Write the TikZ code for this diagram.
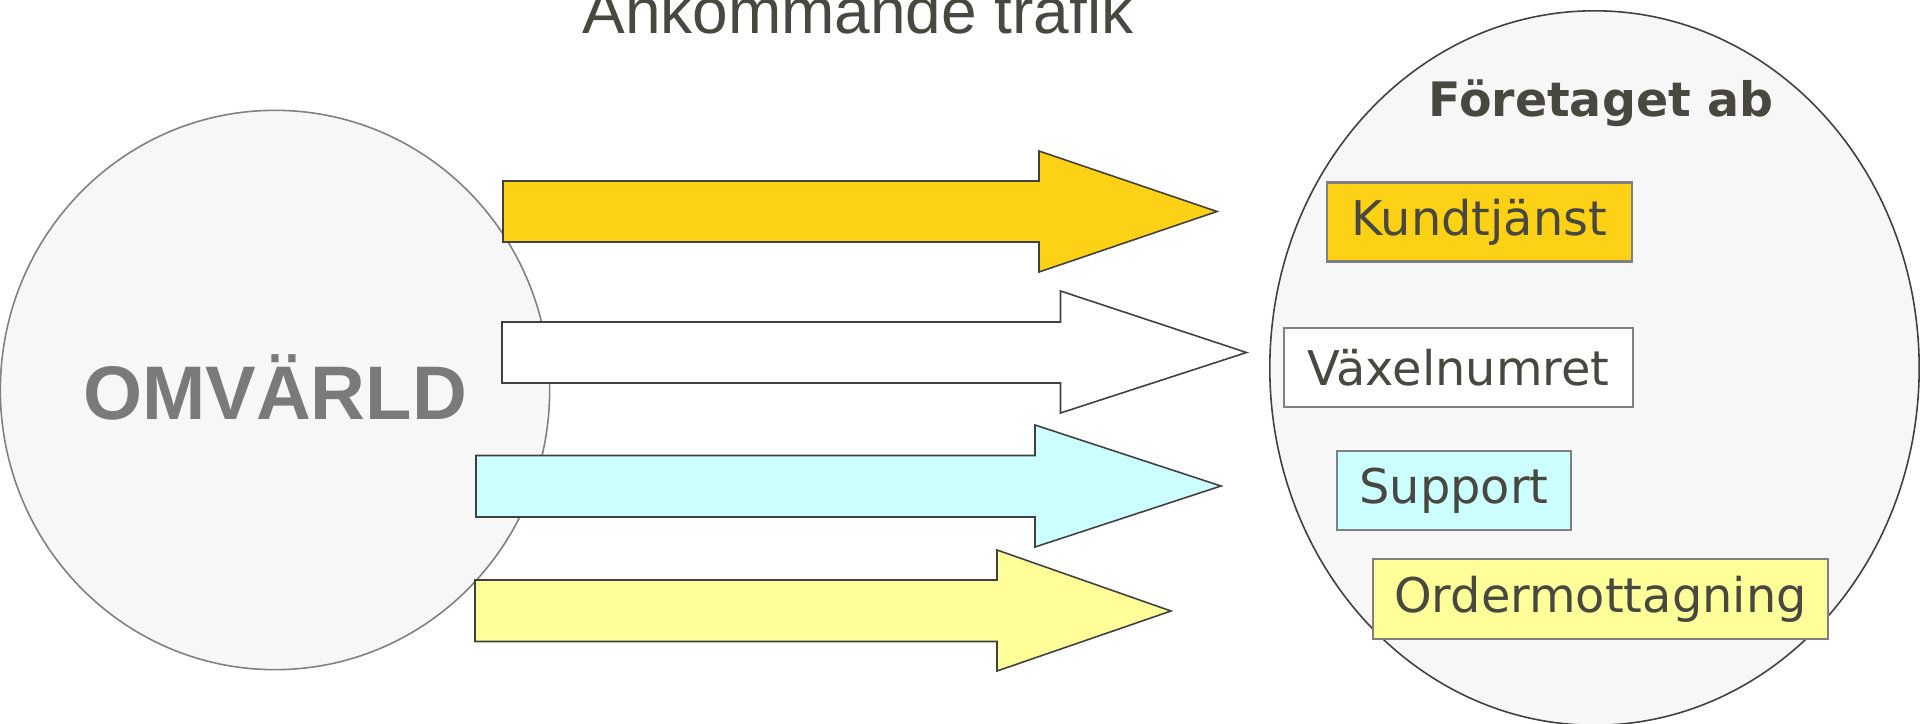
\documentclass[tikz,border=0pt]{standalone}
\usepackage{fontspec}
\setmainfont{Liberation Sans}
\newfontfamily\unitfont{DejaVu Sans}
\definecolor{Ink}{HTML}{484840}
\definecolor{WorldGray}{HTML}{7A7A7A}
\definecolor{PaleFill}{HTML}{F7F7F7}
\definecolor{Gold}{HTML}{FCD116}
\definecolor{Aqua}{HTML}{CCFFFF}
\definecolor{Lemon}{HTML}{FFFF99}
\definecolor{Edge}{HTML}{404040}

\tikzset{
  flow/.style={draw=Edge, line width=0.45pt, line join=miter},
  unit/.style={draw=gray, line width=0.6pt, inner sep=0pt, minimum height=0.79cm,
    font=\unitfont\fontsize{13.6}{16}\selectfont, text=Ink}
}

\begin{document}
\begin{tikzpicture}[x=0.01cm, y=-0.01cm]
    % Frame
    \fill[white] (0,0) rectangle (1920,724);
    \useasboundingbox (0,0) rectangle (1920,724);

    % Outside world
    \filldraw[fill=PaleFill, draw=gray, line width=0.45pt] (275,390) ellipse [x radius=2.745cm, y radius=2.795cm];
    \node[anchor=base, inner sep=0pt, text=WorldGray, font=\bfseries\fontsize{21.6}{26}\selectfont] (world) at (275,419) {OMVÄRLD};

    % Company
    \filldraw[fill=PaleFill, draw=Edge, line width=0.45pt] (1594.5,368) ellipse [x radius=3.245cm, y radius=3.57cm];
    \node[anchor=base, inner sep=0pt, text=Ink, font=\unitfont\bfseries\fontsize{13.5}{16}\selectfont] (company) at (1601,116) {Företaget ab};

    % Title
    \node[anchor=base, inner sep=0pt, text=Ink, font=\fontsize{18.2}{22}\selectfont] (title) at (858,33) {Ankommande trafik};

    % Incoming traffic
    \filldraw[flow, fill=Gold] (503,181) -- (1039,181) -- (1039,151) -- (1217,211.5) -- (1039,272) -- (1039,242) -- (503,242) -- cycle;
    \filldraw[flow, fill=white] (502,322) -- (1060.5,322) -- (1060.5,291) -- (1246.5,352.5) -- (1060.5,413) -- (1060.5,383) -- (502,383) -- cycle;
    \filldraw[flow, fill=Aqua] (476,455.5) -- (1035,455.5) -- (1035,425) -- (1221,486) -- (1035,547) -- (1035,517) -- (476,517) -- cycle;
    \filldraw[flow, fill=Lemon] (475,580) -- (997,580) -- (997,550) -- (1171,611) -- (997,671) -- (997,641.5) -- (475,641.5) -- cycle;

    % Functions
    \node[unit, fill=Gold, minimum width=3.05cm] (kund) at (1479.5,222) {Kundtjänst};
    \node[unit, fill=white, minimum width=3.49cm] (vaxel) at (1458.5,367.5) {Växelnumret};
    \node[unit, fill=Aqua, minimum width=2.34cm] (support) at (1454,490.5) {Support};
    \node[unit, fill=Lemon, minimum width=4.55cm, minimum height=0.8cm] (order) at (1600.5,599) {Ordermottagning};
\end{tikzpicture}
\end{document}
